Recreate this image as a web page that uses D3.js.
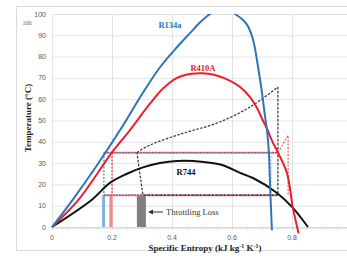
<!DOCTYPE html>
<html>
<head>
<meta charset="utf-8">
<script src="https://cdn.jsdelivr.net/npm/d3@7"></script>
<style>
  body { margin: 0; background: #fff; }
  svg { display: block; }
</style>
</head>
<body>
<div id="chart"></div>
<script>
// saturation domes, [entropy, temperature]
const r134a = [[0,0],[0.07,13],[0.15,29],[0.227,45.5],[0.303,63],[0.36,75],[0.417,84.5],[0.46,91],[0.493,96],
  [0.527,100],[0.55,101.5],[0.575,102],[0.595,101.5],[0.61,100],[0.63,98],[0.65,95],[0.67,88],[0.687,75],
  [0.70,63],[0.71,52],[0.717,45],[0.723,35],[0.727,19],[0.733,-1.5]];
const r410a = [[0,0],[0.088,12.7],[0.2,35],[0.26,45.5],[0.327,58],[0.37,65],[0.417,70],[0.46,71.8],[0.5,72.2],
  [0.54,71.5],[0.58,69.5],[0.627,65.7],[0.66,61],[0.683,56],[0.703,50],[0.717,46],[0.735,40],[0.753,35],
  [0.783,25.4],[0.803,9],[0.817,0],[0.822,-3]];
const r744 = [[0,0],[0.132,12.7],[0.193,20.7],[0.25,25],[0.303,28],[0.36,30],[0.417,31],[0.47,31],[0.527,30.2],
  [0.57,29],[0.627,25.4],[0.67,23],[0.75,16],[0.803,9],[0.853,0]];

// cycle lines
const r744Cooler = [[0.283,35],[0.327,38.5],[0.437,44],[0.55,48.8],[0.66,56.3],[0.753,65.7]];
const r744Rest = [[0.753,65.7],[0.753,15],[0.303,15],[0.283,35]];
const r410aComp = [[0.753,35],[0.787,43],[0.787,15]];
const condT = 35, evapT = 15;
const cycleRange = [0.173, 0.753];
const throttleBars = [
  { s0: 0.167, s1: 0.177, color: "#7fb2e0" },
  { s0: 0.191, s1: 0.202, color: "#f08a8f" },
  { s0: 0.283, s1: 0.313, color: "#7f7f7f" }
];

const xTicks = [0, 0.2, 0.4, 0.6, 0.8];
const yTicks = [0, 10, 20, 30, 40, 50, 60, 70, 80, 90, 100];

const width = 347, height = 260;
const x = d3.scaleLinear().domain([0, 1]).range([52, 352]);
const y = d3.scaleLinear().domain([0, 100]).range([227, 14]);

const svg = d3.select("#chart").append("svg")
  .attr("width", width).attr("height", height);

svg.append("rect").attr("x", 16.5).attr("y", 6.5).attr("width", 340).attr("height", 244)
  .attr("fill", "#fff").attr("stroke", "#d9d9d9");

svg.append("defs").append("clipPath").attr("id", "plot")
  .append("rect").attr("x", 50).attr("y", y(100)).attr("width", 300).attr("height", 220);

// grid
svg.append("g").selectAll("line").data(yTicks).join("line")
  .attr("x1", x(0)).attr("x2", width).attr("y1", d => y(d) + 0.5).attr("y2", d => y(d) + 0.5)
  .attr("stroke", "#e3e3e3");
svg.append("g").selectAll("line").data(xTicks).join("line")
  .attr("x1", d => x(d) + 0.5).attr("x2", d => x(d) + 0.5).attr("y1", y(100)).attr("y2", y(0))
  .attr("stroke", "#e3e3e3");

// x axis
const xAxis = svg.append("g").attr("transform", `translate(0,${y(0) + 0.5})`)
  .call(d3.axisBottom(x).tickValues(d3.range(0, 1.01, 0.05)).tickSize(2).tickFormat(""));
xAxis.select(".domain").attr("stroke", "#cfcfcf");
xAxis.selectAll(".tick line").attr("stroke", "#cfcfcf");

svg.append("g").selectAll("text").data(xTicks).join("text")
  .attr("x", d => x(d)).attr("y", 240).attr("text-anchor", "middle")
  .attr("font-family", "Liberation Sans, Arial, sans-serif").attr("font-size", 7).attr("fill", "#595959")
  .text(d => d);
svg.append("g").selectAll("text").data(yTicks).join("text")
  .attr("x", 46).attr("y", d => y(d) + 2.5).attr("text-anchor", "end")
  .attr("font-family", "Liberation Sans, Arial, sans-serif").attr("font-size", 7).attr("fill", "#595959")
  .text(d => d);
svg.append("text").attr("x", 27).attr("y", 25).attr("text-anchor", "middle")
  .attr("font-family", "Liberation Serif, serif").attr("font-size", 6).attr("fill", "#595959")
  .text("100");

// axis titles
svg.append("text")
  .attr("transform", "translate(31,118) rotate(-90)")
  .attr("text-anchor", "middle")
  .attr("font-family", "Liberation Serif, Times New Roman, serif").attr("font-weight", "bold")
  .attr("font-size", 9).attr("fill", "#222")
  .text("Temperature (°C)");
const xt = svg.append("text").attr("x", 205).attr("y", 251).attr("text-anchor", "middle")
  .attr("font-family", "Liberation Serif, Times New Roman, serif").attr("font-weight", "bold")
  .attr("font-size", 9).attr("fill", "#222");
xt.append("tspan").text("Specific Entropy (kJ kg");
xt.append("tspan").attr("font-size", 6).attr("dy", -3).text("-1");
xt.append("tspan").attr("dy", 3).text(" K");
xt.append("tspan").attr("font-size", 6).attr("dy", -3).text("-1");
xt.append("tspan").attr("dy", 3).text(")");

const plot = svg.append("g").attr("clip-path", "url(#plot)");
const smooth = d3.line().x(d => x(d[0])).y(d => y(d[1])).curve(d3.curveCatmullRom.alpha(0.5));
const straight = d3.line().x(d => x(d[0])).y(d => y(d[1]));

// throttling bars
plot.selectAll("rect.bar").data(throttleBars).join("rect")
  .attr("class", "bar")
  .attr("x", d => x(d.s0)).attr("width", d => x(d.s1) - x(d.s0))
  .attr("y", y(evapT)).attr("height", y(0) - y(evapT))
  .attr("fill", d => d.color);

// condensing / evaporating lines
[condT, evapT].forEach(t => {
  plot.append("line").attr("x1", x(cycleRange[0])).attr("x2", x(cycleRange[1]))
    .attr("y1", y(t) + 0.5).attr("y2", y(t) + 0.5)
    .attr("stroke", "#e07595").attr("stroke-width", 1.4);
  plot.append("line").attr("x1", x(cycleRange[0])).attr("x2", x(cycleRange[1]))
    .attr("y1", y(t) - 0.2).attr("y2", y(t) - 0.2)
    .attr("stroke", "#7a2a55").attr("stroke-width", 0.8).attr("stroke-dasharray", "2,1");
});

// expansion lines
plot.append("line").attr("x1", x(0.173)).attr("x2", x(0.173)).attr("y1", y(condT)).attr("y2", y(evapT))
  .attr("stroke", "#2e75b6").attr("stroke-width", 1.1).attr("stroke-dasharray", "2,1.5");
plot.append("line").attr("x1", x(0.2)).attr("x2", x(0.2)).attr("y1", y(condT)).attr("y2", y(evapT))
  .attr("stroke", "#e8202a").attr("stroke-width", 1.1).attr("stroke-dasharray", "2,1.5");
plot.append("line").attr("x1", x(0.73)).attr("x2", x(0.73)).attr("y1", y(condT)).attr("y2", y(evapT))
  .attr("stroke", "#8fbbe6").attr("stroke-width", 1).attr("stroke-dasharray", "2,1.5");

// R744 cycle
plot.append("path").attr("d", smooth(r744Cooler)).attr("fill", "none")
  .attr("stroke", "#333").attr("stroke-width", 1.2).attr("stroke-dasharray", "2.5,1.5");
plot.append("path").attr("d", straight(r744Rest)).attr("fill", "none")
  .attr("stroke", "#333").attr("stroke-width", 1.2).attr("stroke-dasharray", "2.5,1.5");
// R410A compression
plot.append("path").attr("d", straight(r410aComp)).attr("fill", "none")
  .attr("stroke", "#ee4a55").attr("stroke-width", 1.1).attr("stroke-dasharray", "2,1.5");

// domes
const domes = [
  { data: r744, color: "#111111" },
  { data: r410a, color: "#e8202a" },
  { data: r134a, color: "#2e75b6" }
];
plot.selectAll("path.dome").data(domes).join("path")
  .attr("class", "dome")
  .attr("d", d => smooth(d.data)).attr("fill", "none")
  .attr("stroke", d => d.color).attr("stroke-width", 2);

// labels
const serif = "Liberation Serif, Times New Roman, serif";
svg.append("text").attr("x", 170).attr("y", 28).attr("text-anchor", "middle")
  .attr("font-family", serif).attr("font-weight", "bold").attr("font-size", 8.5).attr("fill", "#2e75b6")
  .text("R134a");
svg.append("text").attr("x", 203).attr("y", 71).attr("text-anchor", "middle")
  .attr("font-family", serif).attr("font-weight", "bold").attr("font-size", 8.5).attr("fill", "#e8202a")
  .text("R410A");
svg.append("text").attr("x", 186).attr("y", 175).attr("text-anchor", "middle")
  .attr("font-family", serif).attr("font-weight", "bold").attr("font-size", 8.5).attr("fill", "#111")
  .text("R744");

// throttling loss annotation
svg.append("line").attr("x1", 152).attr("x2", 163).attr("y1", 212).attr("y2", 212)
  .attr("stroke", "#333").attr("stroke-width", 1);
svg.append("path").attr("d", "M148,212 L153,209.5 L153,214.5 Z").attr("fill", "#333");
svg.append("text").attr("x", 166).attr("y", 215)
  .attr("font-family", serif).attr("font-size", 8.5).attr("fill", "#333")
  .text("Throttling Loss");
</script>
</body>
</html>
